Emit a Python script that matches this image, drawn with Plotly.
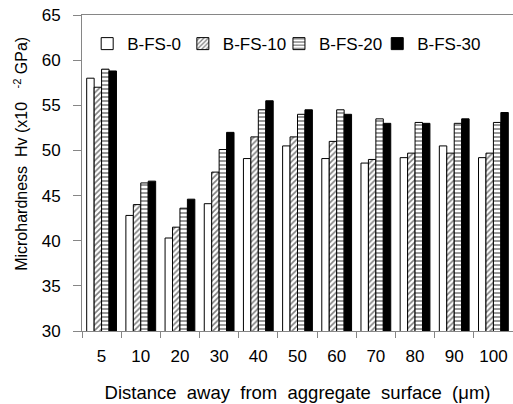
import plotly.graph_objects as go

# Distance from the aggregate surface (µm), one group per distance
distances = ["5", "10", "20", "30", "40", "50", "60", "70", "80", "90", "100"]

# Microhardness Hv (x10^-2 GPa) for each mix
bfs_0 = [58.0, 42.8, 40.3, 44.1, 49.1, 50.5, 49.1, 48.6, 49.2, 50.5, 49.2]
bfs_10 = [57.0, 44.0, 41.5, 47.6, 51.5, 51.5, 51.0, 49.0, 49.7, 49.7, 49.7]
bfs_20 = [59.0, 46.4, 43.6, 50.1, 54.5, 54.0, 54.5, 53.5, 53.1, 53.0, 53.1]
bfs_30 = [58.8, 46.6, 44.6, 52.0, 55.5, 54.5, 54.0, 53.0, 53.0, 53.5, 54.2]

series_names = ["B-FS-0", "B-FS-10", "B-FS-20", "B-FS-30"]
series_values = [bfs_0, bfs_10, bfs_20, bfs_30]

# fill style per series: (background, pattern shape)
styles = [
    ("white", ""),
    ("white", "/"),
    ("white", "-"),
    ("black", ""),
]

# one single-entry legend per series, laid out in a row across the top
legend_ids = ["legend", "legend2", "legend3", "legend4"]
legend_x = [0.012, 0.234, 0.457, 0.685]

FONT = "Liberation Sans, Arial, sans-serif"

fig = go.Figure()
for name, vals, (bg, shape), lid in zip(series_names, series_values, styles, legend_ids):
    marker = dict(color=bg, line=dict(color="black", width=1))
    if shape:
        marker["pattern"] = dict(shape=shape, fgcolor="black", bgcolor="white",
                                 size=4, solidity=0.4, fillmode="overlay")
    fig.add_trace(go.Bar(name=name, x=distances, y=vals, marker=marker,
                         legend=lid, showlegend=True))

legend_style = dict(
    orientation="h",
    y=0.908, xanchor="left", yanchor="middle",
    font=dict(family=FONT, size=17, color="black"),
    bgcolor="rgba(0,0,0,0)",
    itemwidth=30,
    visible=True,
)
for lid, lx in zip(legend_ids, legend_x):
    fig.update_layout({lid: dict(legend_style, x=lx)})

fig.update_layout(
    width=513,
    height=404,
    margin=dict(l=82, r=0, t=15, b=73),
    showlegend=True,
    paper_bgcolor="white",
    plot_bgcolor="white",
    barmode="group",
    bargap=0.24,
    bargroupgap=0,
    font=dict(family=FONT, size=17, color="black"),
    xaxis=dict(
        title=dict(text="Distance  away  from  aggregate  surface  (μm)",
                   font=dict(family=FONT, size=18.5), standoff=20),
        showline=True, linecolor="#868686", linewidth=1, mirror=True,
        ticks="outside", ticklen=6, tickcolor="#868686", tickson="boundaries",
        ticklabelstandoff=10,
        showgrid=False,
        tickfont=dict(family=FONT, size=17),
    ),
    yaxis=dict(
        range=[30, 65],
        dtick=5,
        showline=True, linecolor="#868686", linewidth=1,
        ticks="outside", ticklen=8, tickcolor="#868686",
        ticklabelstandoff=9,
        showgrid=False, zeroline=False,
        tickfont=dict(family=FONT, size=17),
    ),
)

# vertical y-axis title, set a little above the plot's mid-height
fig.add_annotation(
    text="Microhardness  Hv (x10   <sup>-2</sup> GPa)",
    textangle=-90,
    xref="paper", yref="paper",
    x=-0.142, y=0.56,
    xanchor="center", yanchor="middle",
    showarrow=False,
    font=dict(family=FONT, size=16, color="black"),
)

fig.write_html("out.html")
